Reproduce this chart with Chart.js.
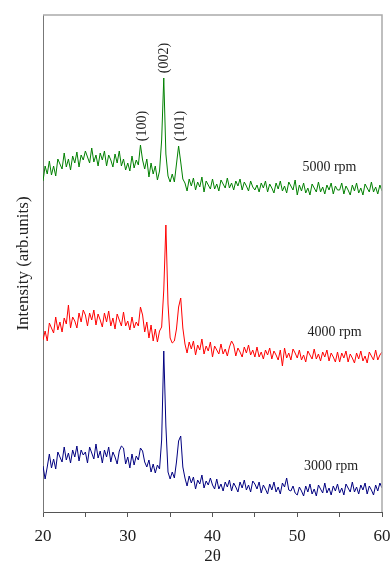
<!DOCTYPE html>
<html>
<head>
<meta charset="utf-8">
<script src="https://cdn.jsdelivr.net/npm/chart.js@4/dist/chart.umd.min.js"></script>
<style>
  html, body { margin: 0; padding: 0; background: #fff; overflow: hidden; }
</style>
</head>
<body>
<canvas id="xrdChart" width="392" height="562"></canvas>
<script>
// 2theta sampling: 20 to 60 step 0.25
const twoThetaStart = 20
const twoThetaStep = 0.25

// intensities (arb. units), one value per step
const rpm5000 = [
    331, 346, 338, 351, 337, 346, 336, 353, 348, 343, 359, 345, 353, 342, 356, 349, 360, 345, 357, 352,
    361, 355, 349, 364, 350, 357, 346, 359, 352, 361, 346, 357, 352, 345, 358, 349, 361, 346, 353, 342,
    349, 341, 356, 344, 352, 347, 367, 352, 343, 353, 335, 349, 338, 346, 332, 341, 372, 434, 358, 336,
    330, 338, 330, 348, 366, 350, 333, 329, 321, 333, 326, 334, 322, 330, 325, 335, 320, 331, 327, 323,
    333, 323, 328, 321, 332, 328, 324, 334, 324, 329, 322, 331, 326, 333, 322, 330, 326, 321, 331, 325,
    322, 327, 320, 329, 324, 331, 320, 328, 324, 319, 329, 323, 331, 321, 326, 319, 330, 326, 322, 332,
    317, 327, 321, 329, 319, 324, 317, 328, 324, 320, 330, 320, 325, 318, 327, 322, 329, 318, 326, 322,
    322, 329, 318, 326, 322, 317, 327, 321, 329, 319, 324, 317, 328, 324, 320, 330, 320, 325, 318, 327, 321
]
const rpm4000 = [
    172, 181, 171, 189, 184, 179, 195, 182, 190, 180, 194, 188, 207, 184, 195, 191, 184, 199, 190, 202,
    197, 186, 199, 192, 202, 187, 198, 192, 185, 199, 190, 201, 186, 194, 183, 198, 192, 186, 200, 186,
    191, 182, 195, 184, 190, 186, 205, 197, 180, 190, 174, 187, 171, 183, 170, 181, 185, 222, 287, 208,
    174, 169, 171, 183, 205, 214, 184, 168, 159, 170, 163, 171, 157, 167, 162, 173, 158, 166, 161, 170,
    155, 166, 162, 158, 168, 158, 163, 156, 165, 171, 167, 156, 164, 160, 155, 165, 159, 167, 157, 162,
    155, 165, 155, 160, 153, 162, 157, 164, 153, 161, 157, 152, 162, 146, 164, 154, 159, 152, 163, 159,
    154, 162, 152, 157, 150, 161, 157, 153, 163, 153, 158, 151, 160, 155, 162, 151, 159, 155, 150, 160,
    150, 159, 154, 161, 150, 158, 154, 149, 159, 153, 161, 151, 156, 149, 160, 156, 152, 162, 152, 157, 160
]
const rpm3000 = [
    46, 33, 45, 58, 44, 53, 43, 60, 55, 50, 65, 52, 59, 49, 62, 55, 66, 51, 62, 57,
    60, 49, 65, 59, 53, 68, 54, 61, 49, 62, 55, 65, 50, 60, 55, 48, 61, 66, 64, 48,
    55, 44, 58, 47, 56, 52, 64, 61, 50, 45, 52, 40, 48, 39, 47, 43, 72, 161, 86, 40,
    33, 40, 34, 50, 71, 76, 45, 34, 26, 36, 29, 35, 23, 32, 28, 37, 24, 31, 27, 34,
    27, 23, 33, 23, 28, 21, 30, 25, 32, 21, 29, 25, 20, 30, 24, 32, 22, 27, 20, 31,
    28, 23, 30, 19, 27, 23, 18, 28, 22, 30, 20, 25, 18, 29, 25, 34, 22, 21, 26, 19,
    17, 25, 21, 16, 26, 20, 28, 18, 23, 16, 27, 23, 19, 29, 19, 24, 17, 26, 21, 28,
    19, 24, 17, 28, 24, 20, 30, 20, 25, 18, 27, 22, 29, 18, 26, 22, 17, 27, 21, 29, 24
]

const xTicks = [20, 30, 40, 50, 60]

// text labels: [text, 2theta, intensity]
const peakLabels = [
    ['(100)', 31.68, 386],
    ['(002)', 34.28, 454],
    ['(101)', 36.17, 386]
]
const rpmLabels = [
    ['5000 rpm', 53.8, 345],
    ['4000 rpm', 54.4, 180],
    ['3000 rpm', 54.0, 46]
]

function toPoints(values) {
    var pts = []
    for (var i = 0; i < values.length; i++) {
        pts.push({ x: twoThetaStart + i * twoThetaStep, y: values[i] })
    }
    return pts
}

const serif = "'Liberation Serif', 'Times New Roman', serif"

const frameAndText = {
    id: 'frameAndText',
    afterDatasetsDraw(chart) {
        const ctx = chart.ctx
        const a = chart.chartArea
        const xs = chart.scales.x
        const ys = chart.scales.y
        ctx.save()
        // top and right frame
        ctx.strokeStyle = '#aaaaaa'
        ctx.lineWidth = 1.5
        ctx.beginPath()
        ctx.moveTo(a.left, a.top)
        ctx.lineTo(a.right, a.top)
        ctx.lineTo(a.right, a.bottom)
        ctx.stroke()

        ctx.fillStyle = '#222'
        ctx.textAlign = 'center'
        ctx.textBaseline = 'middle'
        ctx.font = '14px ' + serif
        peakLabels.forEach(l => {
            ctx.save()
            ctx.translate(xs.getPixelForValue(l[1]), ys.getPixelForValue(l[2]))
            ctx.rotate(-Math.PI / 2)
            ctx.fillText(l[0], 0, 0)
            ctx.restore()
        })
        rpmLabels.forEach(l => {
            ctx.fillText(l[0], xs.getPixelForValue(l[1]), ys.getPixelForValue(l[2]))
        })
        ctx.restore()
    }
}

var ctx = document.getElementById('xrdChart')
var myChart = new Chart(ctx, {
    type: 'line',
    data: {
        datasets: [
            { label: '5000 rpm', data: toPoints(rpm5000), borderColor: '#008000', borderWidth: 1, pointRadius: 0, tension: 0 },
            { label: '4000 rpm', data: toPoints(rpm4000), borderColor: '#ff0000', borderWidth: 1, pointRadius: 0, tension: 0 },
            { label: '3000 rpm', data: toPoints(rpm3000), borderColor: '#000080', borderWidth: 1, pointRadius: 0, tension: 0 }
        ]
    },
    options: {
        responsive: false,
        animation: false,
        devicePixelRatio: 1,
        layout: { padding: { top: 15, right: 10, left: 0, bottom: 0 } },
        plugins: { legend: { display: false }, tooltip: { enabled: false } },
        scales: {
            x: {
                type: 'linear',
                min: 20,
                max: 60,
                afterFit: s => {
                    s.height = 50
                    s.paddingLeft = 0
                    s.paddingRight = 0
                },
                border: { display: true, color: '#555', width: 1 },
                grid: { drawOnChartArea: false, drawTicks: true, tickLength: 5, color: '#555' },
                ticks: {
                    stepSize: 5,
                    padding: 9,
                    color: '#222',
                    font: { family: serif, size: 17 },
                    callback: v => xTicks.includes(v) ? String(v) : ''
                },
                title: {
                    display: true,
                    text: '2θ',
                    color: '#222',
                    font: { family: serif, size: 17 },
                    padding: { top: 0, bottom: -5 }
                }
            },
            y: {
                min: 0,
                max: 497,
                afterFit: s => { s.width = 43 },
                border: { display: true, color: '#777', width: 1 },
                grid: { display: false },
                ticks: { display: false },
                title: {
                    display: true,
                    text: 'Intensity (arb.units)',
                    color: '#222',
                    font: { family: serif, size: 17 },
                    padding: { top: 13, bottom: 0 }
                }
            }
        }
    },
    plugins: [frameAndText]
})
</script>
</body>
</html>
